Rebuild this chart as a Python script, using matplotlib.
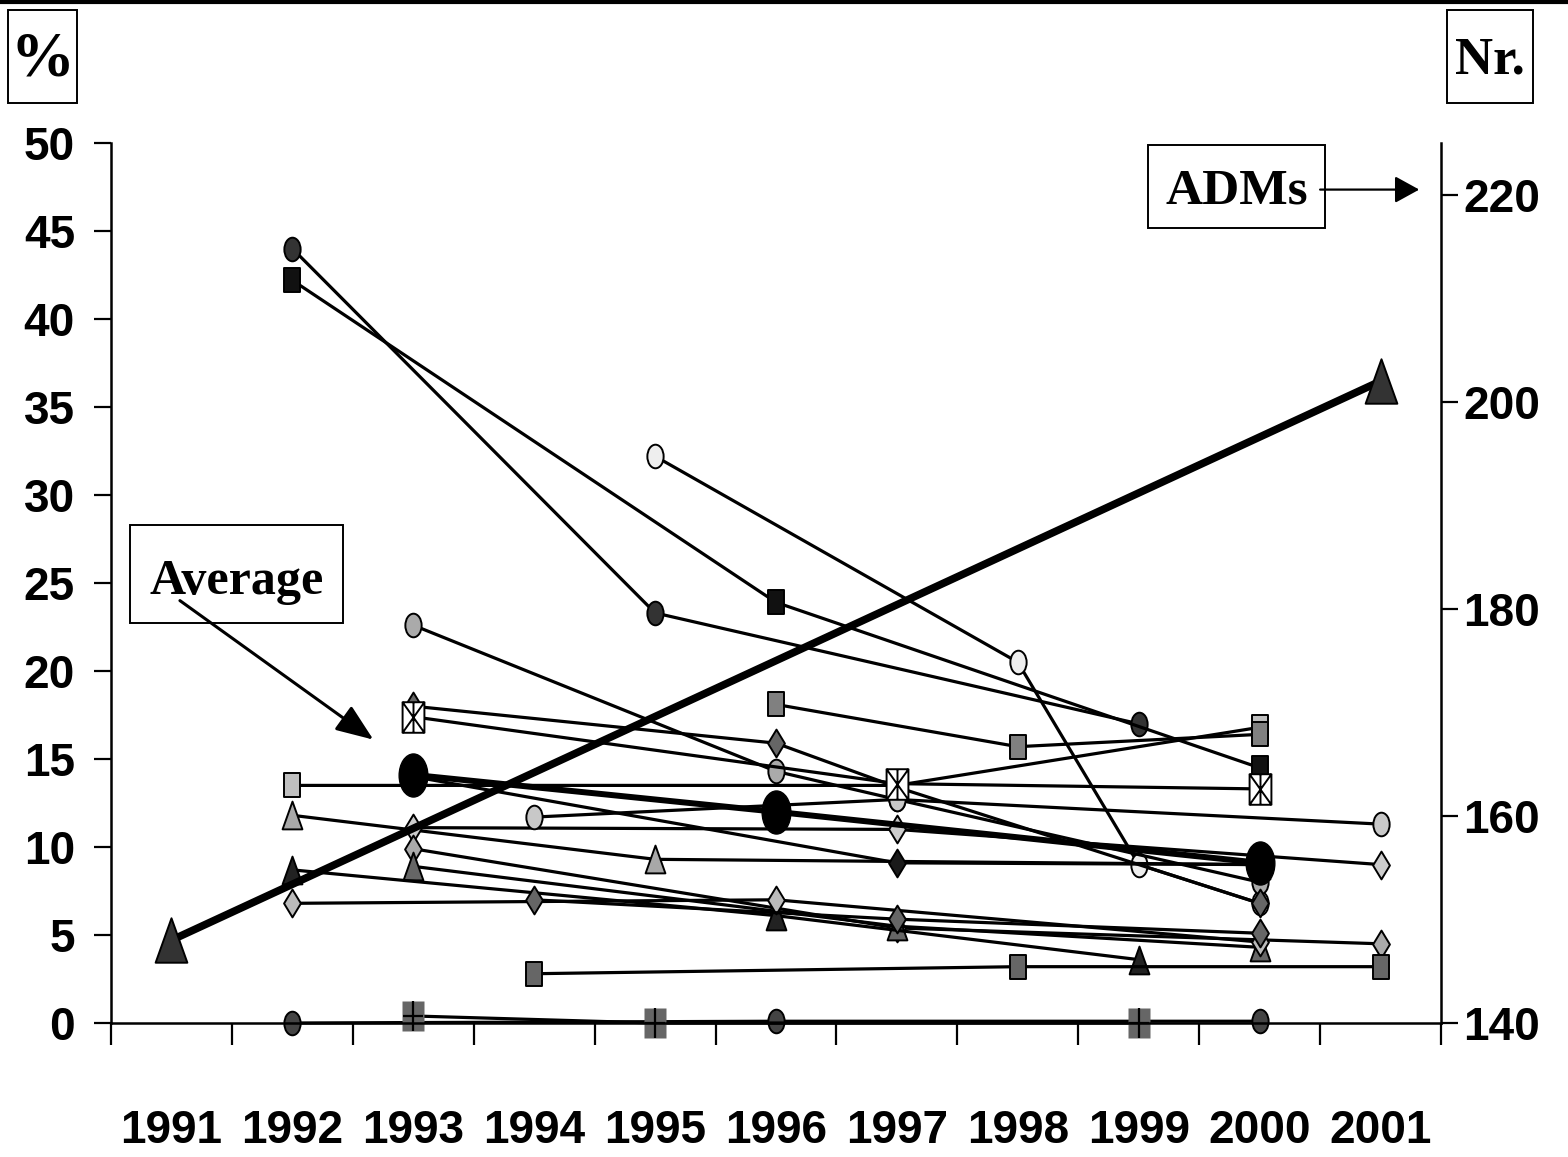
import matplotlib.pyplot as plt
from matplotlib import font_manager
from matplotlib.path import Path
from matplotlib.transforms import Affine2D
from matplotlib.patches import Rectangle, FancyArrowPatch
from matplotlib.lines import Line2D

years = [str(y) for y in range(1991, 2002)]

# percentages per year, None = no survey that year
dark_circle   = [None, 44.0, None, None, 23.3, None, None, None, 17.0, None, None]
black_square  = [None, 42.2, None, None, None, 23.9, None, None, None, 14.5, None]
white_circle  = [None, None, None, None, 32.2, None, None, 20.5, 9.0, 6.8, None]
grey_circle   = [None, None, 22.6, None, None, 14.3, 12.7, None, None, 8.0, None]
grey_diamond  = [None, None, 18.0, None, None, 15.9, 13.4, None, None, 6.8, None]
cross_square  = [None, None, 17.4, None, None, None, 13.6, None, None, 13.3, None]
light_square  = [None, 13.5, None, None, None, None, 13.5, None, None, 16.8, None]
mid_square    = [None, None, None, None, None, 18.1, None, 15.7, None, 16.4, None]
light_tri     = [None, 11.8, None, None, 9.3, None, None, None, None, 9.0, None]
black_diamond = [None, None, 14.0, None, None, None, 9.1, None, None, 9.0, None]
pale_diamond  = [None, None, 11.1, None, None, None, 11.0, None, None, None, 9.0]
pale_circle   = [None, None, None, 11.7, None, None, 12.7, None, None, None, 11.3]
silver_diamond = [None, None, 9.9, None, None, None, 5.4, None, None, None, 4.5]
grey_tri      = [None, None, 8.9, None, None, None, 5.5, None, None, 4.3, None]
dark_tri      = [None, 8.7, None, None, None, 6.1, None, None, 3.6, None, None]
soft_diamond  = [None, 6.8, None, None, None, 7.0, None, None, None, 4.6, None]
slate_diamond = [None, None, None, 7.0, None, None, 5.9, None, None, 5.1, None]
slate_square  = [None, None, None, 2.8, None, None, None, 3.2, None, None, 3.2]
zero_circle   = [None, 0.0, None, None, None, 0.1, None, None, None, 0.1, None]
plus_square   = [None, None, 0.4, None, 0.0, None, None, None, 0.0, None, None]
average       = [None, None, 14.1, None, None, 12.0, None, None, None, 9.1, None]

# number of ADMs (right axis)
adms = [148, None, None, None, None, None, None, None, None, None, 202]


def pts(vals):
    xs = [i for i, v in enumerate(vals) if v is not None]
    return xs, [vals[i] for i in xs]


M, L, C = Path.MOVETO, Path.LINETO, Path.CLOSEPOLY


def marker(kind, aspect):
    h = aspect / 2
    if kind == "o":
        return Path.unit_circle().transformed(Affine2D().scale(0.5, h))
    if kind == "s":
        return Path([(-.5, -h), (.5, -h), (.5, h), (-.5, h), (-.5, -h)], [M, L, L, L, C])
    if kind == "d":
        return Path([(0, -h), (.5, 0), (0, h), (-.5, 0), (0, -h)], [M, L, L, L, C])
    if kind == "^":
        return Path([(-.5, -h), (.5, -h), (0, h), (-.5, -h)], [M, L, L, C])
    if kind == "xs":
        v = [(-.5, -h), (.5, -h), (.5, h), (-.5, h), (-.5, -h),
             (-.5, -h), (.5, h), (-.5, h), (.5, -h), (0, -h), (0, h)]
        return Path(v, [M, L, L, L, C, M, L, M, L, M, L])
    if kind == "+":
        return Path([(0, -h * 1.1), (0, h * 1.1), (-.5, 0), (.5, 0)], [M, L, M, L])


CIRC = marker("o", 1.45)
SQ = marker("s", 1.4)
DIA = marker("d", 1.65)
TRI = marker("^", 1.4)

# (values, marker path, size in pt, face colour)
series = [
    (dark_circle, CIRC, 17, "#333333"),
    (black_square, SQ, 17, "#111111"),
    (white_circle, CIRC, 17, "#eeeeee"),
    (grey_circle, CIRC, 17, "#aaaaaa"),
    (grey_diamond, DIA, 20, "#666666"),
    (light_square, SQ, 17, "#c0c0c0"),
    (mid_square, SQ, 17, "#808080"),
    (light_tri, TRI, 20, "#a8a8a8"),
    (black_diamond, DIA, 20, "#1a1a1a"),
    (pale_diamond, DIA, 20, "#cccccc"),
    (pale_circle, CIRC, 17, "#c8c8c8"),
    (silver_diamond, DIA, 20, "#aaaaaa"),
    (grey_tri, TRI, 20, "#666666"),
    (dark_tri, TRI, 20, "#222222"),
    (soft_diamond, DIA, 20, "#bbbbbb"),
    (slate_diamond, DIA, 20, "#666666"),
    (slate_square, SQ, 17, "#666666"),
    (zero_circle, CIRC, 17, "#444444"),
]

# narrow bold face for the numbers if there is one, else Arial-like bold
installed = {f.name for f in font_manager.fontManager.ttflist}
if "Liberation Sans Narrow" in installed:
    num_font, num_size = "Liberation Sans Narrow", 40
else:
    num_font, num_size = "Liberation Sans", 33
serif_font = ["Liberation Serif", "DejaVu Serif"]

fig = plt.figure(figsize=(15.68, 11.57), dpi=100)
ax = fig.add_axes([111 / 1568, 134 / 1157, 1330 / 1568, 880 / 1157])

for vals, mk, ms, fc in series:
    xs, ys = pts(vals)
    ax.plot(xs, ys, color="black", lw=2.3, marker=mk, ms=ms, mfc=fc,
            mec="black", mew=1.4, clip_on=False)

# white square with star
xs, ys = pts(cross_square)
ax.plot(xs, ys, color="black", lw=2.3, marker=marker("xs", 1.4), ms=22,
        mfc="white", mec="black", mew=1.4, clip_on=False)

# grey square with plus
xs, ys = pts(plus_square)
ax.plot(xs, ys, color="black", lw=2.3, marker=marker("s", 1.36), ms=21,
        mfc="#666666", mec="none", clip_on=False)
ax.plot(xs, ys, ls="none", marker=marker("+", 1.36), ms=22, mec="black",
        mew=1.6, clip_on=False)

# average of all groups
xs, ys = pts(average)
ax.plot(xs, ys, color="black", lw=4.3, marker=marker("o", 1.5), ms=31,
        mfc="black", mec="black", clip_on=False, zorder=3)

ax.set_xlim(-0.5, 10.5)
ax.set_ylim(0, 50)
ax.set_yticks(range(0, 51, 5))
ax.set_xticks([i - 0.5 for i in range(12)])
ax.set_xticklabels([])
ax.set_xticks(range(11), minor=True)
ax.set_xticklabels(years, minor=True)
ax.tick_params(axis="x", which="major", direction="out", length=16, width=1.6)
ax.tick_params(axis="x", which="minor", length=0, pad=62)
ax.tick_params(axis="y", direction="out", length=12, width=1.6, pad=14)
for lab in ax.get_xticklabels(minor=True) + ax.get_yticklabels():
    lab.set_family(num_font)
    lab.set_fontweight("bold")
    lab.set_fontsize(num_size)
for s in ["top", "right"]:
    ax.spines[s].set_visible(False)
for s in ["left", "bottom"]:
    ax.spines[s].set_linewidth(1.8)

# ADMs on the secondary axis
ax2 = ax.twinx()
xs, ys = pts(adms)
ax2.plot(xs, ys, color="black", lw=5.5, marker=marker("^", 1.4), ms=32,
         mfc="#333333", mec="black", mew=1.4, clip_on=False)
ax2.set_ylim(140, 225)
ax2.set_yticks(range(140, 221, 20))
ax2.tick_params(axis="y", direction="out", length=12, width=1.6, pad=4)
for lab in ax2.get_yticklabels():
    lab.set_family(num_font)
    lab.set_fontweight("bold")
    lab.set_fontsize(num_size)
for s in ["top", "left", "bottom"]:
    ax2.spines[s].set_visible(False)
ax2.spines["right"].set_linewidth(1.8)

# boxed captions
W, H = 1568, 1157


def box(x0, y0, x1, y1, text, size, ty=None):
    ty = (y0 + y1) / 2 if ty is None else ty
    fig.add_artist(Rectangle((x0 / W, 1 - y1 / H), (x1 - x0) / W, (y1 - y0) / H,
                             transform=fig.transFigure, fc="white", ec="black",
                             lw=1.4, zorder=5))
    fig.text((x0 + x1) / 2 / W, 1 - ty / H, text, ha="center",
             va="center", family=serif_font, fontweight="bold", fontsize=size,
             zorder=6)


box(8, 10, 77, 103, "%", 46, 60)
box(1447, 10, 1533, 103, "Nr.", 38, 60)
box(1148, 145, 1325, 228, "ADMs", 37, 192)
box(130, 525, 343, 623, "Average", 36, 582)

# arrows from the captions to their lines
avg_arrow = FancyArrowPatch((0.07, 24.0), (1.67, 16.1), transform=ax.transData,
                            arrowstyle="-|>,head_length=1.15,head_width=0.45",
                            mutation_scale=20, color="black", lw=2.2,
                            shrinkA=0, shrinkB=0, zorder=7)
fig.add_artist(avg_arrow)
adm_arrow = FancyArrowPatch((9.5, 220.5), (10.32, 220.5), transform=ax2.transData,
                            arrowstyle="-|>,head_length=1.0,head_width=0.55",
                            mutation_scale=15, color="black", lw=1.6,
                            shrinkA=0, shrinkB=0, zorder=7)
fig.add_artist(adm_arrow)

# rule along the top edge
fig.add_artist(Line2D([0, 1], [1 - 2 / H, 1 - 2 / H], transform=fig.transFigure,
                      color="black", lw=3))

fig.savefig("out.png", dpi=100)
